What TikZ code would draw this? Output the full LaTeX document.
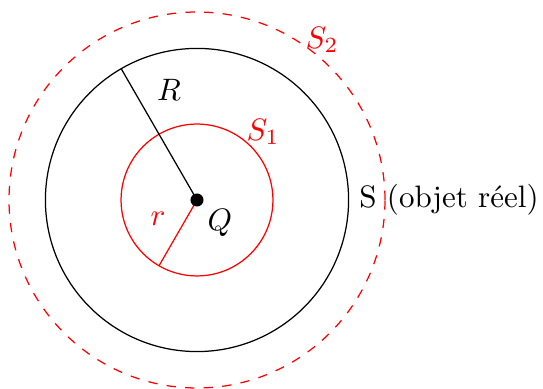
\documentclass[tikz,border=0pt]{standalone}
\begin{document}
\begin{tikzpicture}[x=0.3226pt, y=-0.3226pt,
  ring/.style={circle, draw, inner sep=0pt, outer sep=0pt},
  lbl/.style={inner sep=0pt}]
\useasboundingbox (0,0) rectangle (543,389);
\coordinate (c) at (197,200);
\node[ring, minimum size=97.8pt] (big) at (c) {};
\node[ring, red, minimum size=49.0pt] (small) at (c) {};
\node[ring, red, dashed, minimum size=121.3pt] (outer) at (c) {};
\draw (c) -- (big.120);
\draw[red] (c) -- (small.240);
\fill (c) circle (2.1pt);
\node[lbl] (lR) at (169,90) {$R$};
\node[lbl, red] (lS1) at (263,132) {$S_1$};
\node[lbl, red] (lS2) at (322,40) {$S_2$};
\node[lbl] (lQ) at (220,223) {$Q$};
\node[lbl, red] (lr) at (158,219) {$r$};
\node[lbl] (lS) at (449,200) {S (objet réel)};
\end{tikzpicture}
\end{document}
